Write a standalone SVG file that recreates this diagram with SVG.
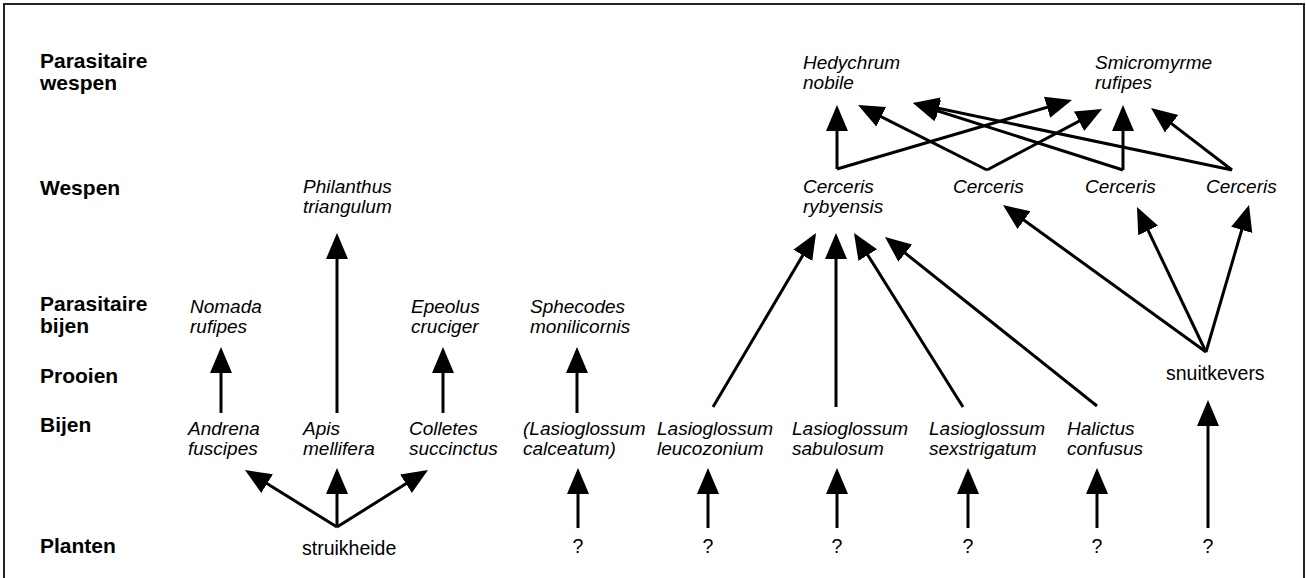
<svg xmlns="http://www.w3.org/2000/svg" width="1306" height="578" viewBox="0 0 1306 578">
<style>
.row{font-family:"Liberation Sans",Arial,sans-serif;font-weight:bold;font-size:21px;fill:#000}
.sp{font-family:"Liberation Sans",Arial,sans-serif;font-style:italic;font-size:19px;fill:#000}
.pl{font-family:"Liberation Sans",Arial,sans-serif;font-size:19.5px;fill:#000}
.c line{stroke:#000;stroke-width:3;marker-end:url(#ah)}
</style>
<defs>
<marker id="ah" markerUnits="userSpaceOnUse" markerWidth="30" markerHeight="26" viewBox="0 -13 30 26" refX="22" refY="0" orient="auto">
<path d="M0,-11 L26,0 L0,11 z" fill="#000"/>
</marker>
</defs>
<rect x="0" y="0" width="1306" height="578" fill="#fff"/>
<rect x="4" y="4" width="1300" height="600" fill="none" stroke="#222" stroke-width="2"/>

<g id="row-labels">
<text class="row" x="40" y="68">Parasitaire</text>
<text class="row" x="40" y="90">wespen</text>
<text class="row" x="40" y="195">Wespen</text>
<text class="row" x="40" y="311">Parasitaire</text>
<text class="row" x="40" y="333">bijen</text>
<text class="row" x="40" y="383">Prooien</text>
<text class="row" x="40" y="432">Bijen</text>
<text class="row" x="40" y="553">Planten</text>
</g>

<g id="hedychrum"><text class="sp" x="803" y="69">Hedychrum</text><text class="sp" x="803" y="89">nobile</text></g>
<g id="smicromyrme"><text class="sp" x="1095" y="69">Smicromyrme</text><text class="sp" x="1095" y="89">rufipes</text></g>
<g id="philanthus"><text class="sp" x="303" y="193">Philanthus</text><text class="sp" x="303" y="213">triangulum</text></g>
<g id="cerceris-rybyensis"><text class="sp" x="803" y="193">Cerceris</text><text class="sp" x="803" y="213">rybyensis</text></g>
<g id="cerceris-2"><text class="sp" x="953" y="193">Cerceris</text></g>
<g id="cerceris-3"><text class="sp" x="1085" y="193">Cerceris</text></g>
<g id="cerceris-4"><text class="sp" x="1206" y="193">Cerceris</text></g>
<g id="nomada"><text class="sp" x="190" y="313">Nomada</text><text class="sp" x="190" y="333">rufipes</text></g>
<g id="epeolus"><text class="sp" x="411" y="313">Epeolus</text><text class="sp" x="411" y="333">cruciger</text></g>
<g id="sphecodes"><text class="sp" x="530" y="313">Sphecodes</text><text class="sp" x="530" y="333">monilicornis</text></g>
<g id="snuitkevers"><text class="pl" x="1166" y="380">snuitkevers</text></g>
<g id="andrena"><text class="sp" x="188" y="435">Andrena</text><text class="sp" x="188" y="455">fuscipes</text></g>
<g id="apis"><text class="sp" x="303" y="435">Apis</text><text class="sp" x="303" y="455">mellifera</text></g>
<g id="colletes"><text class="sp" x="409" y="435">Colletes</text><text class="sp" x="409" y="455">succinctus</text></g>
<g id="calceatum"><text class="sp" x="523" y="435">(Lasioglossum</text><text class="sp" x="523" y="455">calceatum)</text></g>
<g id="leucozonium"><text class="sp" x="657" y="435">Lasioglossum</text><text class="sp" x="657" y="455">leucozonium</text></g>
<g id="sabulosum"><text class="sp" x="792" y="435">Lasioglossum</text><text class="sp" x="792" y="455">sabulosum</text></g>
<g id="sexstrigatum"><text class="sp" x="929" y="435">Lasioglossum</text><text class="sp" x="929" y="455">sexstrigatum</text></g>
<g id="halictus"><text class="sp" x="1067" y="435">Halictus</text><text class="sp" x="1067" y="455">confusus</text></g>
<g id="struikheide"><text class="pl" x="302" y="555">struikheide</text></g>
<g id="q1"><text class="pl" x="578" y="553" text-anchor="middle">?</text></g>
<g id="q2"><text class="pl" x="708" y="553" text-anchor="middle">?</text></g>
<g id="q3"><text class="pl" x="837" y="553" text-anchor="middle">?</text></g>
<g id="q4"><text class="pl" x="968" y="553" text-anchor="middle">?</text></g>
<g id="q5"><text class="pl" x="1097" y="553" text-anchor="middle">?</text></g>
<g id="q6"><text class="pl" x="1208" y="553" text-anchor="middle">?</text></g>

<g id="connectors" class="c">
<line x1="221" y1="413" x2="221" y2="351"/>
<line x1="337" y1="413" x2="337" y2="237"/>
<line x1="443" y1="413" x2="443" y2="351"/>
<line x1="337" y1="527" x2="248.4" y2="472.1"/>
<line x1="337" y1="527" x2="337" y2="472"/>
<line x1="337" y1="527" x2="424.6" y2="472.1"/>
<line x1="577" y1="413" x2="577" y2="351"/>
<line x1="578" y1="528" x2="578" y2="472"/>
<line x1="708" y1="528" x2="708" y2="472"/>
<line x1="837" y1="528" x2="837" y2="472"/>
<line x1="968" y1="528" x2="968" y2="472"/>
<line x1="1097" y1="528" x2="1097" y2="472"/>
<line x1="1208" y1="528" x2="1208" y2="404"/>
<line x1="713" y1="407" x2="814" y2="236.4"/>
<line x1="836" y1="407" x2="836" y2="237"/>
<line x1="963" y1="407" x2="856.1" y2="236.4"/>
<line x1="1097" y1="406" x2="888.1" y2="239.5"/>
<line x1="1206" y1="352" x2="1006.2" y2="207.3"/>
<line x1="1206" y1="352" x2="1138.7" y2="210.6"/>
<line x1="1206" y1="352" x2="1247.9" y2="208.8"/>
<line x1="837" y1="169" x2="837" y2="109"/>
<line x1="837" y1="169" x2="1068.2" y2="101.1"/>
<line x1="987" y1="170" x2="861.6" y2="106.8"/>
<line x1="987" y1="170" x2="1098.5" y2="110.9"/>
<line x1="1123" y1="170" x2="1123" y2="109"/>
<line x1="1123" y1="170" x2="916.8" y2="104.2"/>
<line x1="1232" y1="170" x2="916.9" y2="103.8"/>
<line x1="1232" y1="170" x2="1154.2" y2="110.4"/>
</g>
</svg>
